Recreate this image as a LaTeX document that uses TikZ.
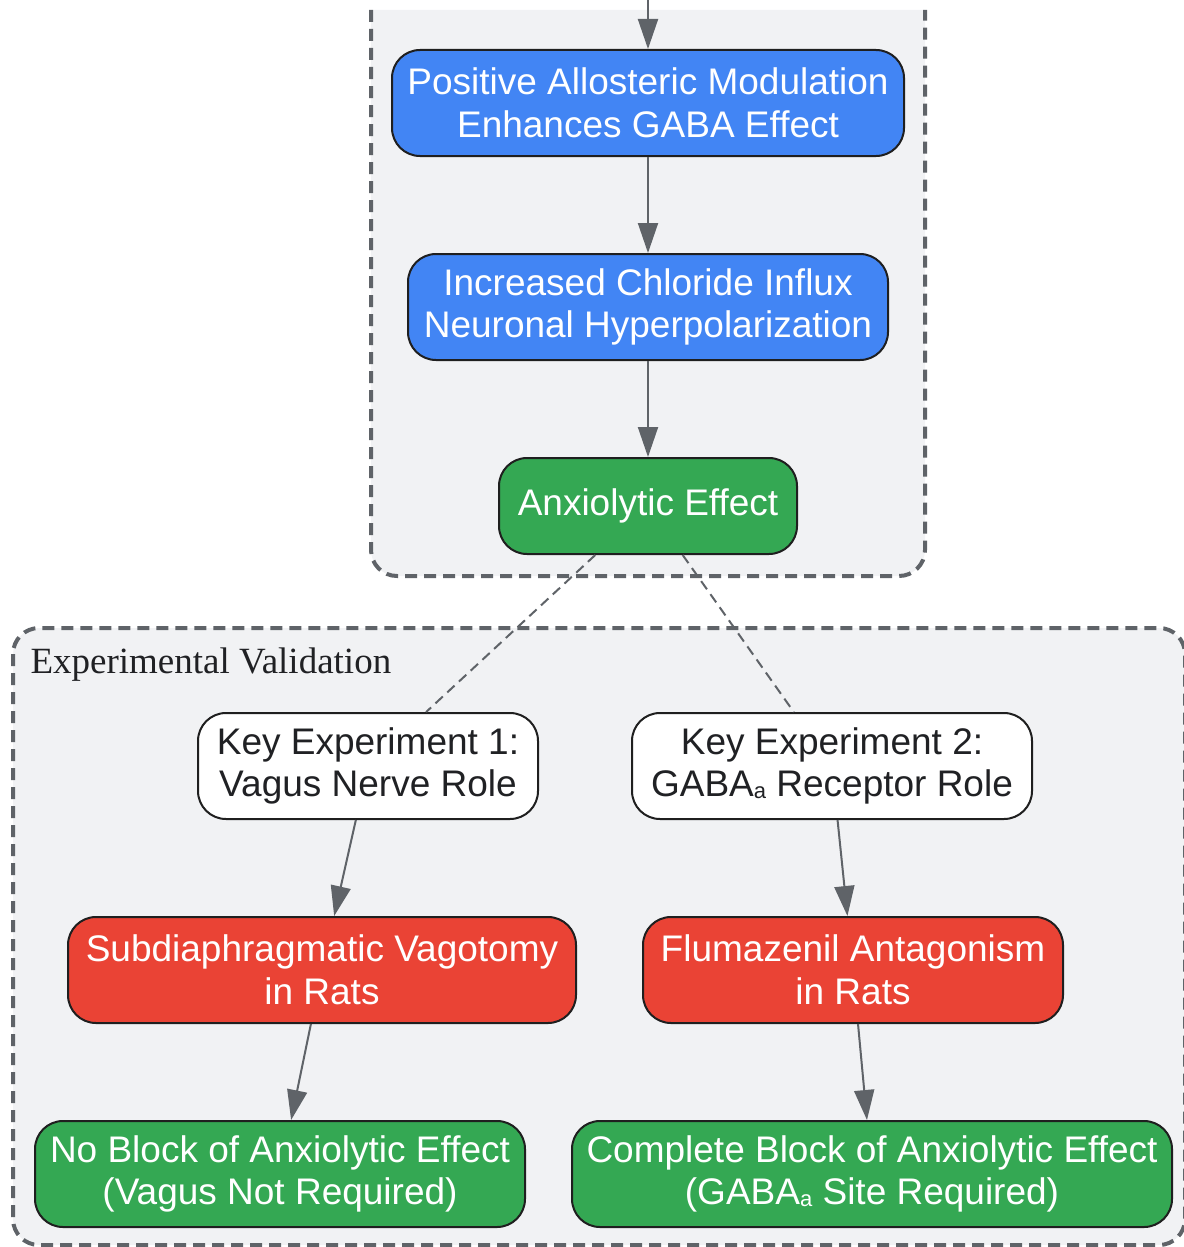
\documentclass[tikz,border=0pt]{standalone}
\usepackage{fontspec}
\setmainfont{Liberation Serif}
\setsansfont{Liberation Sans}
\usetikzlibrary{arrows.meta,positioning}
\definecolor{clusterfill}{HTML}{F1F2F4}
\definecolor{clusterline}{HTML}{5F6368}
\definecolor{blueproc}{HTML}{4285F4}
\definecolor{greenres}{HTML}{34A853}
\definecolor{redexp}{HTML}{EA4335}
\definecolor{nodeline}{HTML}{1F1F1F}
\definecolor{darktext}{HTML}{202124}
\newcommand{\subA}{\raisebox{-1.5pt}{\fontsize{22}{22}\selectfont a}}

\begin{document}
\begin{tikzpicture}[x=1pt,y=-1pt,align=center,node distance=96pt]
\tikzstyle{box}=[draw=nodeline,line width=2pt,rounded corners=28pt,inner sep=0pt,minimum height=106pt,font=\sffamily\fontsize{37}{42.5}\selectfont,text=white]
\tikzstyle{mech}=[box,fill=blueproc]
\tikzstyle{result}=[box,fill=greenres]
\tikzstyle{test}=[box,fill=redexp]
\tikzstyle{key}=[box,fill=white,text=darktext]
\tikzstyle{flow}=[draw=clusterline,line width=2pt,-{Triangle[length=30pt,width=20pt]}]
\tikzstyle{link}=[draw=clusterline,line width=2pt,dash pattern=on 10pt off 6pt]
\tikzstyle{cluster}=[draw=clusterline,fill=clusterfill,line width=4pt,dash pattern=on 12pt off 7pt,rounded corners=26pt]

\useasboundingbox (0,0) rectangle (1183,1247);

\path[cluster] (371,10) -- (371,576) -- (925,576) -- (925,10);
\path[cluster] (13,628) rectangle (1185,1245);
\node[anchor=base west,font=\rmfamily\fontsize{37}{37}\selectfont,text=darktext] (valtitle) at (27,673) {Experimental Validation};

\node[mech, minimum width=512pt] (pam) at (648,103) {Positive Allosteric Modulation\\Enhances GABA Effect};
\node[mech, minimum width=480pt] (chl) [below=of pam] {Increased Chloride Influx\\Neuronal Hyperpolarization};
\node[result, minimum width=298pt, minimum height=96pt] (anx) [below=of chl] {Anxiolytic Effect};

\node[key, minimum width=340pt] (key1) at (368,766) {Key Experiment 1:\\Vagus Nerve Role};
\node[key, minimum width=400pt] (key2) at (832,766) {Key Experiment 2:\\GABA\subA{} Receptor Role};
\node[test, minimum width=508pt] (vago) [below=of key1, xshift=-46pt] {Subdiaphragmatic Vagotomy\\in Rats};
\node[test, minimum width=420pt] (fluma) [below=of key2, xshift=21pt] {Flumazenil Antagonism\\in Rats};
\node[result, minimum width=490pt] (noblock) [below=of vago, xshift=-42pt] {No Block of Anxiolytic Effect\\(Vagus Not Required)};
\node[result, minimum width=600pt] (fullblock) [below=of fluma, xshift=19pt] {Complete Block of Anxiolytic Effect\\(GABA\subA{} Site Required)};

\coordinate (entry) at (pam.north |- 0,0);
\path[flow] (entry) -- (pam);
\path[flow] (pam) -- (chl);
\path[flow] (chl) -- (anx);
\path[link] (anx) -- (key1);
\path[link] (anx) -- (key2);
\path[flow] (key1) -- (vago);
\path[flow] (key2) -- (fluma);
\path[flow] (vago) -- (noblock);
\path[flow] (fluma) -- (fullblock);
\end{tikzpicture}
\end{document}
